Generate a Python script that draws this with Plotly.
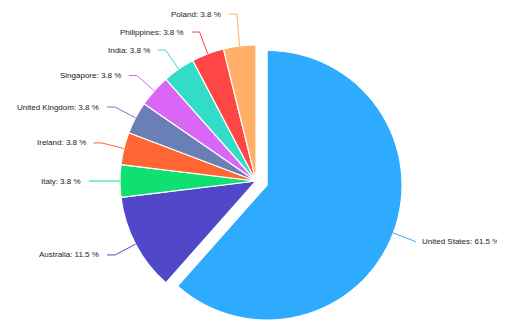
import math
import plotly.graph_objects as go

countries = ["United States", "Australia", "Italy", "Ireland", "United Kingdom",
             "Singapore", "India", "Philippines", "Poland"]
counts = [16, 3, 1, 1, 1, 1, 1, 1, 1]
colors = ["#2eaaff", "#5048c8", "#10e070", "#ff6633", "#6a7fb5",
          "#d966f5", "#33dcc6", "#ff4646", "#ffb066"]

# the page body has an 8px margin, so the figure is drawn 8px in from the corner
W, H = 497, 312
CX, CY, R = 248, 173, 136          # main pie centre / radius (px, figure coords)
PULL_PX = 12                        # offset of the exploded first slice (px)

total = sum(counts)
pcts = [100 * c / total for c in counts]

# mid angles (deg, clockwise from 12 o'clock)
mids = []
acc = 0
for c in counts:
    mids.append((acc + c / 2) / total * 360)
    acc += c

def dom(cx, cy, r):
    return dict(x=[(cx - r) / W, (cx + r) / W], y=[max(0, 1 - (cy + r) / H), 1 - (cy - r) / H])

# pulled slice centre
a0 = math.radians(mids[0])
ucx = CX + PULL_PX * math.sin(a0)
ucy = CY - PULL_PX * math.cos(a0)
ur = min(R, H - ucy)

fig = go.Figure()
# base pie: every slice except the exploded one
fig.add_trace(go.Pie(
    labels=countries, values=counts, sort=False, direction="clockwise", rotation=0,
    marker=dict(colors=["rgba(0,0,0,0)"] + colors[1:],
                line=dict(color="white", width=[0] + [1.2] * (len(counts) - 1))),
    textinfo="none", hoverinfo="label+percent", showlegend=False,
    domain=dom(CX, CY, R),
))
# exploded slice
fig.add_trace(go.Pie(
    labels=countries, values=counts, sort=False, direction="clockwise", rotation=0,
    marker=dict(colors=[colors[0]] + ["rgba(0,0,0,0)"] * (len(counts) - 1),
                line=dict(color="white", width=[1] + [0] * (len(counts) - 1))),
    textinfo="none", hoverinfo="label+percent", showlegend=False,
    domain=dom(ucx, ucy, ur),
))

# leader lines + labels
ELB = 1.17
HSEG = 8
GAP_L = 6
GAP_R = 4
MINSP = 18
items = []
for i, (name, p, m) in enumerate(zip(countries, pcts, mids)):
    a = math.radians(m)
    cx, cy, r = (ucx, ucy, ur) if i == 0 else (CX, CY, R)
    sx, sy = cx + r * math.sin(a), cy - r * math.cos(a)
    ex, ey = cx + R * ELB * math.sin(a), cy - R * ELB * math.cos(a)
    side = 1 if math.sin(a) >= 0 else -1
    items.append(dict(i=i, name=name, p=p, sx=sx, sy=sy, ex=ex, ey=ey, side=side))

# de-overlap labels on each side (push upward from bottom)
for side in (1, -1):
    grp = sorted([it for it in items if it["side"] == side], key=lambda d: -d["ey"])
    for k in range(1, len(grp)):
        if grp[k - 1]["ey"] - grp[k]["ey"] < MINSP:
            grp[k]["ey"] = grp[k - 1]["ey"] - MINSP

def px(x):
    return x / W

def py(y):
    return 1 - y / H

shapes = []
annotations = []
for it in items:
    hs = 0 if it["side"] > 0 else HSEG
    gap = GAP_R if it["side"] > 0 else GAP_L
    lx = it["ex"] + it["side"] * hs
    path = "M {} {} L {} {} L {} {}".format(px(it["sx"]), py(it["sy"]), px(it["ex"]), py(it["ey"]),
                                          px(lx), py(it["ey"]))
    shapes.append(dict(type="path", xref="paper", yref="paper", path=path,
                       line=dict(color=colors[it["i"]], width=1)))
    annotations.append(dict(
        x=px(lx + it["side"] * gap), y=py(it["ey"]), xref="paper", yref="paper",
        text="{}: {:.1f} %".format(it["name"], it["p"]), showarrow=False,
        xanchor="left" if it["side"] > 0 else "right", yanchor="middle",
        font=dict(family="Arial, Liberation Sans, sans-serif", size=8, color="#1a1a1a"),
    ))

fig.update_layout(
    width=W, height=H, autosize=False,
    margin=dict(l=0, r=0, t=0, b=0),
    paper_bgcolor="white", plot_bgcolor="white",
    shapes=shapes, annotations=annotations,
)
fig.write_html("out.html")
